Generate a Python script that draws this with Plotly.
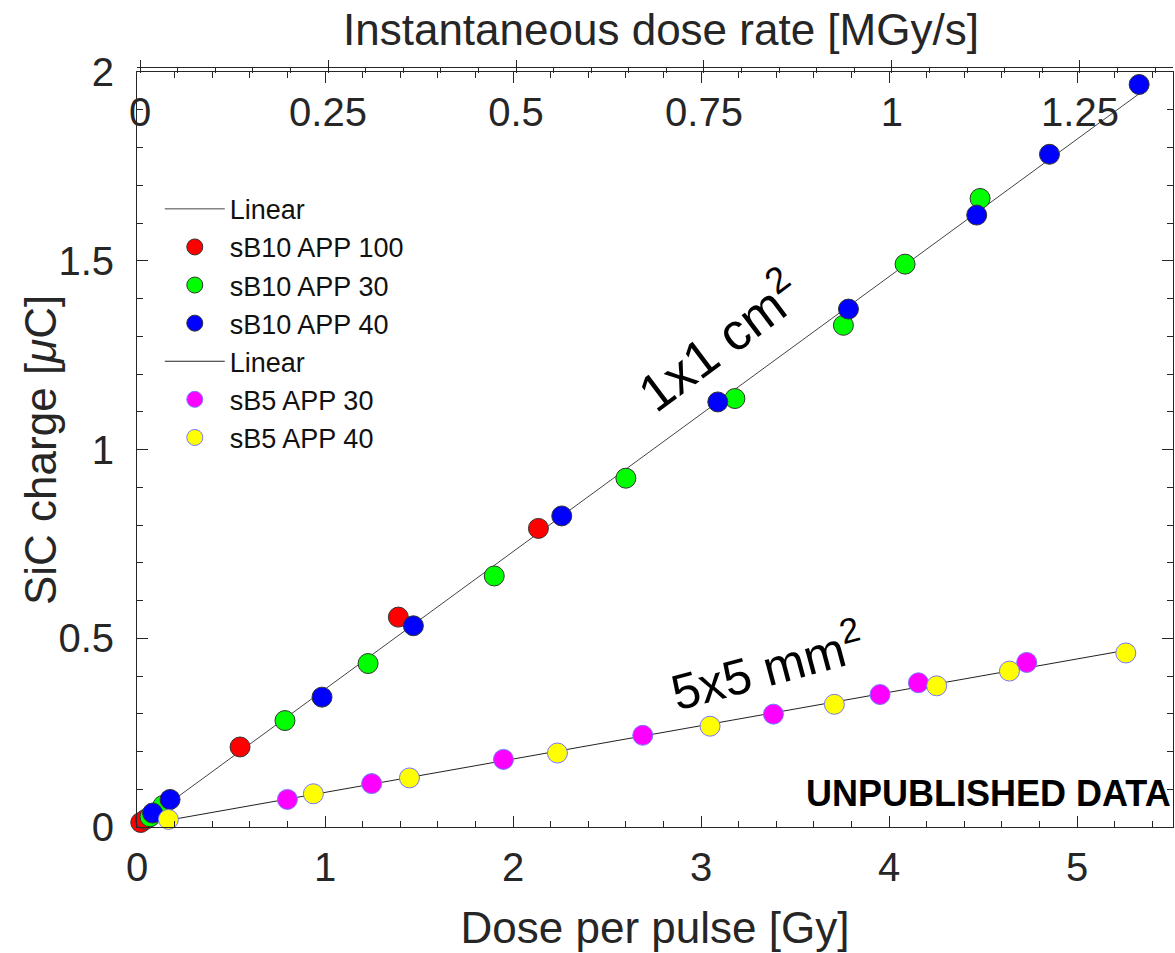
import numpy as np
import plotly.graph_objects as go

# ---------------- data ----------------
b10_app100_x = [0.02, 0.045, 0.548, 1.39, 2.135]
b10_app100_y = [0.012, 0.020, 0.212, 0.556, 0.791]

b10_app30_x = [0.069, 0.138, 0.787, 1.229, 1.90, 2.60, 3.18, 3.757, 4.085, 4.484]
b10_app30_y = [0.027, 0.057, 0.282, 0.433, 0.665, 0.924, 1.135, 1.329, 1.491, 1.665]

b10_app40_x = [0.083, 0.176, 0.984, 1.47, 2.259, 3.089, 3.784, 4.466, 4.853, 5.33]
b10_app40_y = [0.037, 0.073, 0.344, 0.533, 0.824, 1.126, 1.372, 1.621, 1.782, 1.967]

b5_app30_x = [0.80, 1.248, 1.949, 2.69, 3.385, 3.952, 4.156, 4.732]
b5_app30_y = [0.073, 0.115, 0.179, 0.243, 0.299, 0.351, 0.382, 0.436]

b5_app40_x = [0.167, 0.938, 1.449, 2.236, 3.048, 3.709, 4.253, 4.64, 5.259]
b5_app40_y = [0.020, 0.088, 0.130, 0.196, 0.267, 0.325, 0.374, 0.413, 0.461]

x_ticks = [0, 1, 2, 3, 4, 5]
y_ticks = [0, 0.5, 1, 1.5, 2]
y_ticktext = ["0", "0.5", "1", "1.5", "2"]
top_ticks = [0, 0.25, 0.5, 0.75, 1, 1.25]
top_ticktext = ["0", "0.25", "0.5", "0.75", "1", "1.25"]

# ---------------- linear fits from the data ----------------
def fit_line(xs_list, ys_list):
    xs = np.concatenate([np.asarray(v, float) for v in xs_list])
    ys = np.concatenate([np.asarray(v, float) for v in ys_list])
    k, b = np.polyfit(xs, ys, 1)
    xl = np.array([xs.min(), xs.max()])
    return xl, k * xl + b

fit1_x, fit1_y = fit_line([b10_app100_x, b10_app30_x, b10_app40_x],
                          [b10_app100_y, b10_app30_y, b10_app40_y])
fit2_x, fit2_y = fit_line([b5_app30_x, b5_app40_x], [b5_app30_y, b5_app40_y])

FONT = "Liberation Sans, Arial, Helvetica, sans-serif"
AXC = "#262626"
MS = 20

fig = go.Figure()
fig.add_trace(go.Scatter(x=fit1_x, y=fit1_y, mode="lines", name="Linear",
                         line=dict(color="#444444", width=1)))
fig.add_trace(go.Scatter(x=b10_app100_x, y=b10_app100_y, mode="markers", name="sB10 APP 100",
                         marker=dict(size=MS, color="#ff0000", line=dict(color="#333333", width=1)),
                         cliponaxis=False))
fig.add_trace(go.Scatter(x=b10_app30_x, y=b10_app30_y, mode="markers", name="sB10 APP 30",
                         marker=dict(size=MS, color="#00ff00", line=dict(color="#333333", width=1)),
                         cliponaxis=False))
fig.add_trace(go.Scatter(x=b10_app40_x, y=b10_app40_y, mode="markers", name="sB10 APP 40",
                         marker=dict(size=MS, color="#0000ff", line=dict(color="#333333", width=1)),
                         cliponaxis=False))
fig.add_trace(go.Scatter(x=fit2_x, y=fit2_y, mode="lines", name="Linear",
                         line=dict(color="#222222", width=1)))
fig.add_trace(go.Scatter(x=b5_app30_x, y=b5_app30_y, mode="markers", name="sB5 APP 30",
                         marker=dict(size=MS, color="#ff00ff", line=dict(color="#7777ff", width=1)),
                         cliponaxis=False))
fig.add_trace(go.Scatter(x=b5_app40_x, y=b5_app40_y, mode="markers", name="sB5 APP 40",
                         marker=dict(size=MS, color="#ffff00", line=dict(color="#7777ff", width=1)),
                         cliponaxis=False))
# dummy trace so the top axis exists
fig.add_trace(go.Scatter(x=[None], y=[None], xaxis="x2", showlegend=False, hoverinfo="skip"))

W, H = 1175, 953
ML, MR, MT, MB = 137, 2, 67, 126
plot_h = H - MT - MB
ydom_top = (plot_h - 5) / plot_h

def paper_x(px):
    return (px - ML) / (W - ML - MR)

def paper_y(py):
    return (H - MB - py) / plot_h

fig.update_layout(
    width=W, height=H,
    margin=dict(l=ML, r=MR, t=MT, b=MB, autoexpand=False),
    paper_bgcolor="white", plot_bgcolor="white",
    font=dict(family=FONT, color=AXC),
    showlegend=True,
    legend=dict(x=0.022, y=0.845, xanchor="left", yanchor="top", itemwidth=60,
                font=dict(size=27, color="#111111", family=FONT),
                bgcolor="rgba(0,0,0,0)", tracegroupgap=0, traceorder="normal"),
    xaxis=dict(range=[0, 5.51], tickvals=x_ticks, ticks="inside", ticklen=11, tickwidth=1,
               tickcolor=AXC, showline=True, linecolor=AXC, linewidth=1, mirror="ticks",
               showgrid=False, zeroline=False, tickfont=dict(size=40, color=AXC),
               ticklabelstandoff=5, automargin=False,
               minor=dict(dtick=0.2, ticks="inside", ticklen=6, tickcolor=AXC, showgrid=False),
               title=dict(text="Dose per pulse [Gy]", font=dict(size=44, color=AXC), standoff=24)),
    xaxis2=dict(overlaying="x", side="top", anchor="free", position=1.0,
                range=[-0.004, 1.3737], tickvals=top_ticks, ticktext=top_ticktext,
                ticks="outside", ticklen=7, tickcolor=AXC, ticklabelposition="inside",
                ticklabeloverflow="allow", ticklabelstandoff=35, automargin=False,
                showline=True, linecolor=AXC, linewidth=1, showgrid=False, zeroline=False,
                tickfont=dict(size=40, color=AXC),
                minor=dict(dtick=0.05, ticks="inside", ticklen=5, tickcolor=AXC, showgrid=False)),
    yaxis=dict(range=[0, 2], domain=[0, ydom_top], tickvals=y_ticks, ticktext=y_ticktext,
               ticks="inside", ticklen=11, tickcolor=AXC, showline=True, linecolor=AXC,
               linewidth=1, mirror="ticks", showgrid=False, zeroline=False,
               tickfont=dict(size=40, color=AXC), ticklabelstandoff=14,
               ticklabeloverflow="allow", automargin=False,
               minor=dict(dtick=0.1, ticks="inside", ticklen=6, tickcolor=AXC, showgrid=False)),
    annotations=[
        # top axis title
        dict(x=paper_x(661), y=paper_y(30), xref="paper", yref="paper",
             xanchor="center", yanchor="middle", showarrow=False,
             text="Instantaneous dose rate [MGy/s]", font=dict(size=44, color=AXC, family=FONT)),
        # left axis title
        dict(x=paper_x(40), y=paper_y(450), xref="paper", yref="paper",
             xanchor="center", yanchor="middle", showarrow=False, textangle=-90,
             text="SiC charge [<i>μ</i>C]", font=dict(size=44, color=AXC, family=FONT)),
        dict(x=3.09, y=1.29, xref="x", yref="y", text="1x1 cm<sup>2</sup>", textangle=-37,
             showarrow=False, font=dict(size=52, color="black", family=FONT)),
        dict(x=3.35, y=0.43, xref="x", yref="y", text="5x5 mm<sup>2</sup>", textangle=-15,
             showarrow=False, font=dict(size=50, color="black", family=FONT)),
        dict(x=1.0, y=0.044, xref="paper", yref="paper", xanchor="right", yanchor="middle",
             text="<b>UNPUBLISHED DATA</b>", showarrow=False,
             font=dict(size=36, color="black", family=FONT)),
    ],
)

# remove the browser's default 8px page margin so the figure fills the window
fig.write_html("out.html", config={"displayModeBar": False},
               post_script="document.body.style.margin='0';")
